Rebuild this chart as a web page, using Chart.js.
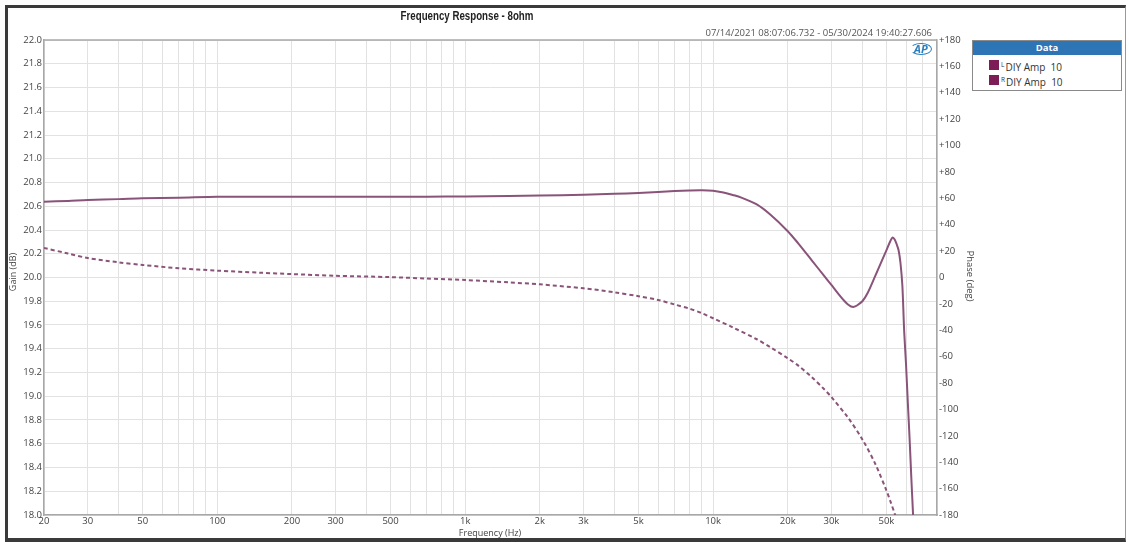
<!DOCTYPE html>
<html>
<head>
<meta charset="utf-8">
<script src="https://cdn.jsdelivr.net/npm/chart.js@4/dist/chart.umd.min.js"></script>
<style>
  html, body { margin: 0; padding: 0; background: #fff; }
  body { width: 1129px; height: 542px; position: relative; overflow: hidden; font-family: "Open Sans", "Noto Sans", sans-serif; }
  #frame { position: absolute; left: 5px; top: 5px; width: 1117px; height: 530px; border: 3px solid #3a3a3a; border-bottom-width: 4px; border-right: 1px solid #999; box-sizing: content-box; }
  #wrap { position: absolute; left: 0; top: 0; width: 1129px; height: 542px; }
  .txt { position: absolute; white-space: nowrap; }
  #title { left: 467px; top: 8px; font-family: "Liberation Sans", Arial, sans-serif; font-weight: bold; font-size: 13.5px; color: #222; transform: translateX(-50%) scaleX(0.72); transform-origin: center; }
  #stamp { right: 197px; top: 26px; font-size: 9.5px; color: #555; }
  #gainT { left: 12px; top: 272px; font-size: 9px; color: #444; transform: translate(-50%, -50%) rotate(-90deg); }
  #phaseT { left: 970px; top: 276px; font-size: 9.5px; color: #444; transform: translate(-50%, -50%) rotate(90deg); }
  #freqT { left: 490px; top: 526px; font-size: 9px; color: #444; transform: translateX(-50%); }
  #logo { left: 910px; top: 43px; font-size: 11px; font-weight: bold; font-style: italic; color: #2b7fbf; border: 1.5px solid #2b7fbf; border-radius: 50%; padding: 0 3px; line-height: 10px; border-left-color: transparent; }
  #legend { position: absolute; left: 972px; top: 40px; width: 150px; height: 51px; border: 1px solid #8a8a8a; box-sizing: border-box; background: #fff; }
  #legend .hd { background: #2e75b6; color: #fff; font-weight: bold; font-size: 9.5px; text-align: center; height: 14px; line-height: 14px; }
  #legend .row { position: relative; height: 14.5px; font-size: 10px; color: #333; line-height: 14px; padding-left: 28px; }
  #legend .row.first { margin-top: 3px; }
  #legend .sw { position: absolute; left: 16px; top: 2px; width: 10px; height: 10px; background: #7d1d57; }
  #legend sup { font-size: 6.5px; vertical-align: 4px; margin-right: 1px; }
</style>
</head>
<body>
<div id="wrap"><canvas id="c" width="1129" height="542"></canvas></div>
<div id="frame"></div>
<div class="txt" id="title">Frequency Response - 8ohm</div>
<div class="txt" id="stamp">07/14/2021 08:07:06.732 - 05/30/2024 19:40:27.606</div>
<div class="txt" id="gainT">Gain (dB)</div>
<div class="txt" id="phaseT">Phase (deg)</div>
<div class="txt" id="freqT">Frequency (Hz)</div>
<div class="txt" id="logo">AP</div>
<div id="legend">
  <div class="hd">Data</div>
  <div class="row first"><span class="sw"></span><sup>L</sup>DIY Amp&nbsp; 10</div>
  <div class="row"><span class="sw"></span><sup>R</sup>DIY Amp&nbsp; 10</div>
</div>
<script>
// ---- data ----
const gainFreq = [20, 25, 30, 40, 50, 70, 100, 150, 200, 300, 500, 700, 1000, 1500, 2000, 3000, 4000, 5000, 6000, 7000, 8000, 9000, 10000, 11000, 12000, 13000, 15000, 17000, 20000, 22000, 25000, 28000, 30000, 32000, 34000, 35000, 36000, 37000, 38000, 40000, 42000, 45000, 48000, 50000, 52000, 53000, 54000, 55000, 56000, 57000, 58000, 59000, 60000, 61000, 62000, 63000, 64000, 64500];
const gainValues = [20.638, 20.645, 20.653, 20.66, 20.667, 20.672, 20.68, 20.68, 20.68, 20.68, 20.68, 20.68, 20.683, 20.687, 20.69, 20.697, 20.705, 20.712, 20.72, 20.728, 20.733, 20.735, 20.73, 20.715, 20.695, 20.673, 20.615, 20.53, 20.39, 20.29, 20.145, 20.015, 19.937, 19.863, 19.798, 19.772, 19.756, 19.753, 19.764, 19.80, 19.87, 20.01, 20.145, 20.229, 20.312, 20.337, 20.32, 20.28, 20.23, 20.12, 19.93, 19.54, 19.27, 18.95, 18.65, 18.32, 18.02, 17.87];
const phaseFreq = [20, 25, 30, 40, 50, 70, 100, 150, 200, 300, 500, 700, 1000, 1500, 2000, 3000, 4000, 5000, 6000, 7000, 8000, 9000, 10000, 12000, 15000, 17000, 20000, 22000, 25000, 28000, 30000, 35000, 40000, 45000, 50000, 52000, 54000, 55000];
const phaseValues = [22.4, 18.2, 14.8, 11.5, 9.5, 7.0, 5.2, 3.6, 2.6, 1.3, 0.3, -0.8, -1.9, -3.7, -5.2, -8.2, -11.2, -14.2, -17, -20.5, -23.5, -27, -30.9, -37.8, -46.8, -52.8, -61.2, -66.6, -75.5, -84.5, -90.6, -106.2, -122.7, -140.9, -161.3, -170.1, -178.9, -183];
const xGridValues = [20,30,40,50,60,70,80,90,100,200,300,400,500,600,700,800,900,1000,2000,3000,4000,5000,6000,7000,8000,9000,10000,20000,30000,40000,50000,60000,70000,80000];
const xTickValues = [20, 30, 50, 100, 200, 300, 500, 1000, 2000, 3000, 5000, 10000, 20000, 30000, 50000];
const xTickLabels = ['20', '30', '50', '100', '200', '300', '500', '1k', '2k', '3k', '5k', '10k', '20k', '30k', '50k'];

const lineColor = '#8a5379';
const tickFont = { family: '"Open Sans", "Noto Sans", sans-serif', size: 9.5 };

new Chart(document.getElementById('c'), {
  type: 'line',
  data: {
    datasets: [
      { label: 'L DIY Amp 10 Gain', data: gainFreq.map((f, i) => ({ x: f, y: gainValues[i] })), yAxisID: 'y',
        borderColor: lineColor, borderWidth: 2, pointRadius: 0, tension: 0.3 },
      { label: 'L DIY Amp 10 Phase', data: phaseFreq.map((f, i) => ({ x: f, y: phaseValues[i] })), yAxisID: 'y2',
        borderColor: lineColor, borderWidth: 2, borderDash: [4, 3], pointRadius: 0, tension: 0.3 }
    ]
  },
  options: {
    responsive: false,
    animation: false,
    events: [],
    layout: { padding: { top: 40, left: 0, right: 0, bottom: 0 } },
    plugins: { legend: { display: false }, tooltip: { enabled: false } },
    scales: {
      x: {
        type: 'logarithmic', min: 20, max: 80000,
        afterBuildTicks: s => { s.ticks = xGridValues.map(v => ({ value: v })); },
        afterFit: s => { s.height = 27; },
        ticks: {
          autoSkip: false, maxRotation: 0, padding: 1, color: '#444', font: tickFont,
          callback: v => { const i = xTickValues.indexOf(v); return i >= 0 ? xTickLabels[i] : ''; }
        },
        grid: { color: '#e2e2e2', drawTicks: false },
        border: { color: '#a8a8a8', width: 1.5 }
      },
      y: {
        position: 'left', min: 18, max: 22,
        afterFit: s => { s.width = 44; },
        ticks: { stepSize: 0.2, padding: 2, color: '#444', font: tickFont, callback: v => Number(v).toFixed(1) },
        grid: { color: '#e2e2e2', drawTicks: false },
        border: { color: '#a8a8a8', width: 1.5 }
      },
      y2: {
        position: 'right', min: -180, max: 180,
        afterFit: s => { s.width = 192; },
        ticks: { stepSize: 20, padding: 2, color: '#444', font: tickFont, callback: v => v > 0 ? '+' + v : String(v) },
        grid: { display: false, drawTicks: false },
        border: { color: '#a8a8a8', width: 1.5 }
      }
    }
  },
  plugins: [{
    id: 'topBorder',
    afterDraw(chart) {
      const { ctx, chartArea: a } = chart;
      ctx.save(); ctx.strokeStyle = '#a8a8a8'; ctx.lineWidth = 1.5;
      ctx.beginPath(); ctx.moveTo(a.left, a.top); ctx.lineTo(a.right, a.top); ctx.stroke(); ctx.restore();
    }
  }]
});
</script>
</body>
</html>
